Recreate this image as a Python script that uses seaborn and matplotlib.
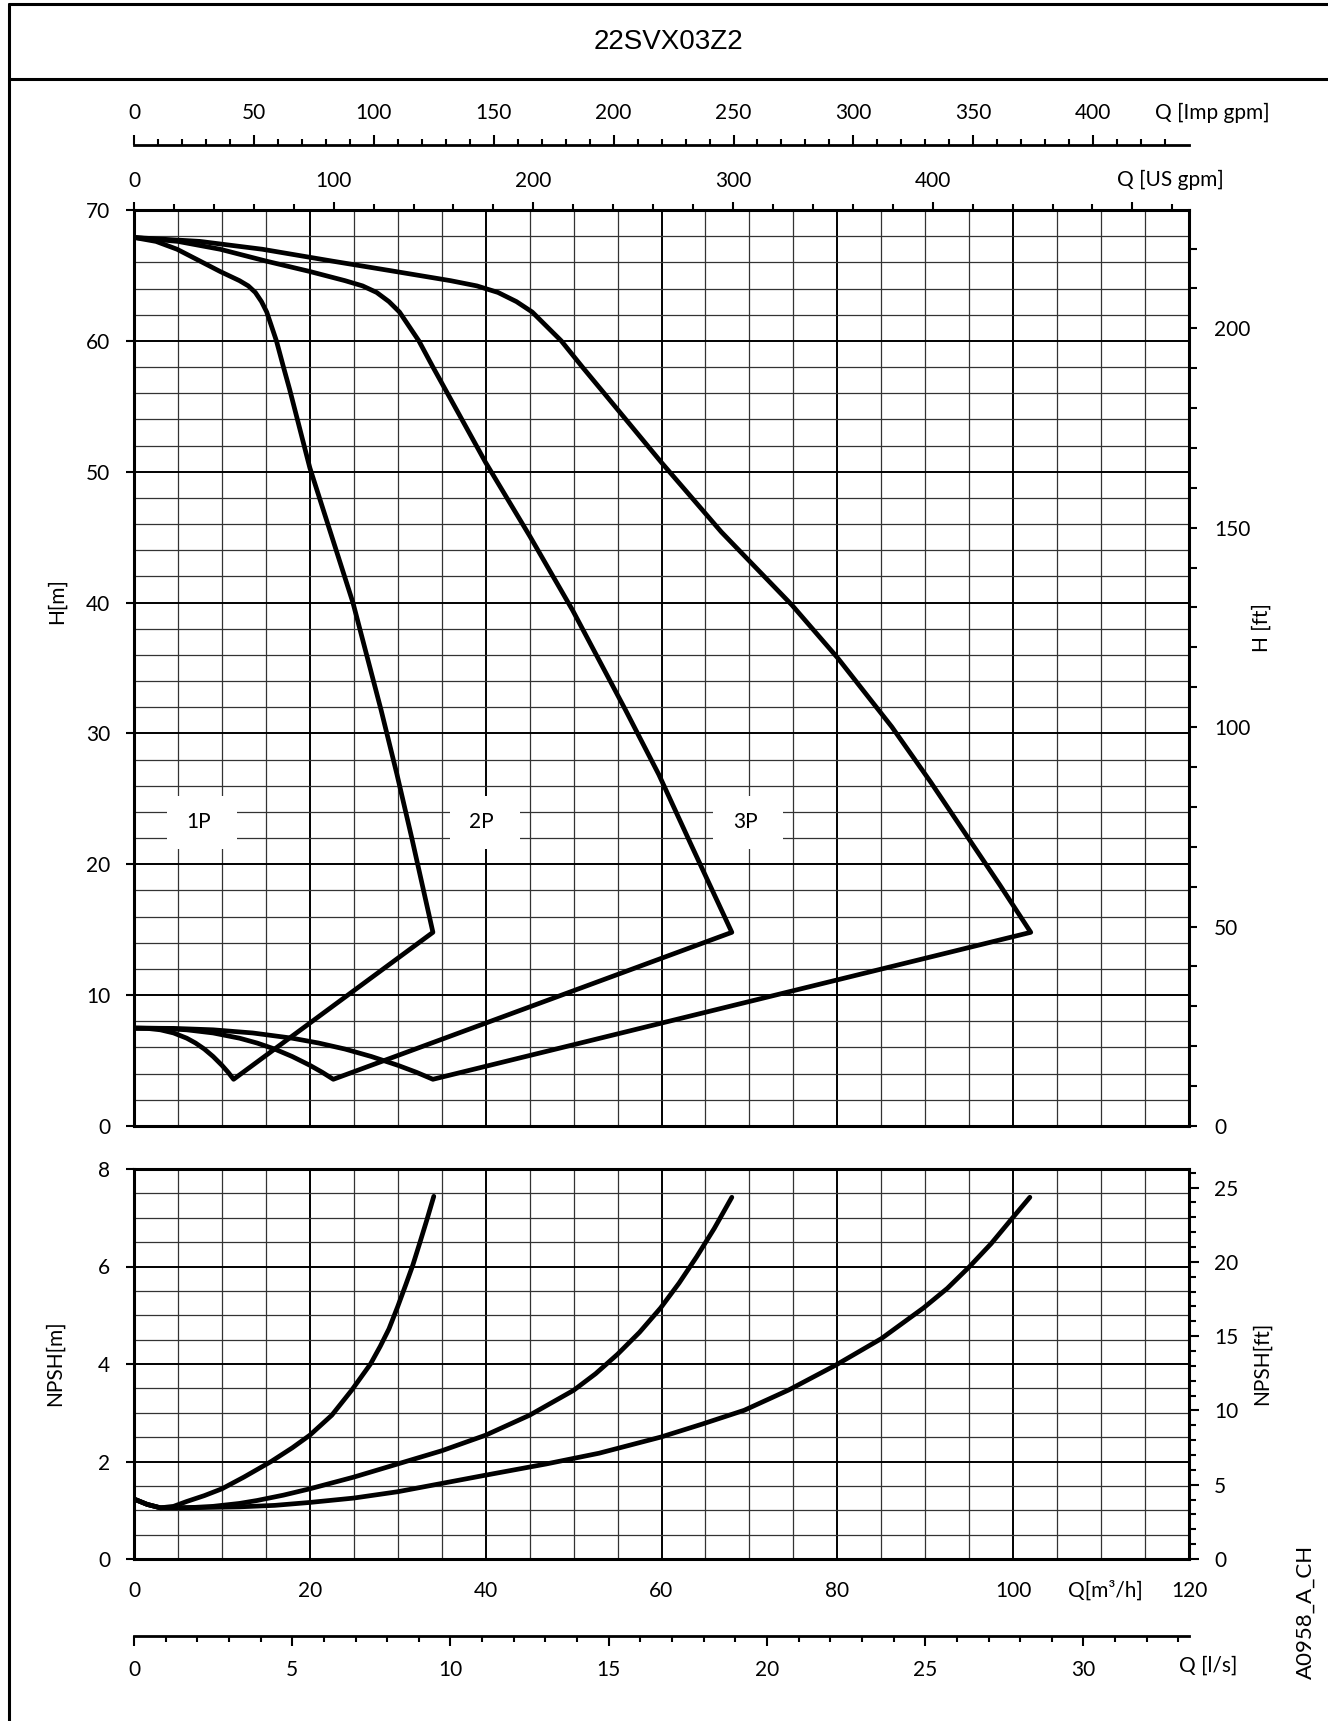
import numpy as np
import matplotlib
matplotlib.use("Agg")
import matplotlib.pyplot as plt
import seaborn as sns
from matplotlib.ticker import MultipleLocator
from matplotlib.lines import Line2D
from matplotlib.patches import Rectangle

# ---- H curves (Q in m3/h, H in m) ----
q_1p_top = [0, 2.5, 4.9, 7.5, 9.8, 12.0, 13.0, 13.8, 14.5, 15.1, 15.6, 16.2, 17.0, 17.7, 20.0, 24.9, 28.1, 29.9, 31.6, 34.0]
h_1p_top = [67.9, 67.6, 67.0, 66.1, 65.3, 64.6, 64.2, 63.7, 63.0, 62.2, 61.2, 60.0, 58.0, 56.3, 50.3, 40.0, 31.8, 26.9, 22.0, 14.8]
q_1p_low = [0, 1.5, 3.0, 4.5, 6.0, 7.0, 8.0, 9.0, 10.0, 10.7, 11.33]
h_1p_low = [7.48, 7.46, 7.35, 7.11, 6.71, 6.34, 5.88, 5.31, 4.64, 4.11, 3.57]

q_2p_top = [0, 5, 9.8, 15, 20, 24.0, 26.0, 27.6, 29.0, 30.2, 31.2, 32.4, 34.0, 35.4, 40.0, 45.0, 49.9, 55.9, 59.7, 63.5, 68.0]
h_2p_top = [67.9, 67.6, 67.0, 66.1, 65.3, 64.6, 64.2, 63.7, 63.0, 62.2, 61.2, 60.0, 58.0, 56.3, 50.7, 45.1, 39.4, 31.8, 26.85, 21.3, 14.8]
q_2p_low = [0, 3, 6, 9, 12, 14, 16, 18, 20, 21.4, 22.67]
h_2p_low = [7.48, 7.46, 7.35, 7.11, 6.71, 6.34, 5.88, 5.31, 4.64, 4.11, 3.57]

q_3p_top = [0, 7.5, 14.6, 22.5, 29.3, 36.0, 39.0, 41.4, 43.5, 45.3, 46.8, 48.6, 51.0, 53.1, 60.0, 66.8, 74.85, 80.0, 86.2, 90.6, 94.9, 98.5, 102.0]
h_3p_top = [67.9, 67.6, 67.0, 66.1, 65.35, 64.6, 64.2, 63.7, 63.0, 62.2, 61.2, 60.0, 58.0, 56.3, 50.7, 45.4, 39.8, 35.8, 30.5, 26.3, 22.0, 18.4, 14.8]
q_3p_low = [0, 4.5, 9, 13.5, 18, 21, 24, 27, 30, 32.1, 34.0]
h_3p_low = [7.48, 7.46, 7.35, 7.11, 6.71, 6.34, 5.88, 5.31, 4.64, 4.11, 3.57]

# ---- NPSH curves (m) ----
q_npsh_1p = [0, 1.5, 3.0, 4.5, 6.0, 8.0, 10.0, 12.5, 15.6, 18.0, 20.0, 22.5, 24.75, 26.9, 28.0, 29.0, 30.0, 30.9, 31.7, 32.5, 33.3, 34.1]
npsh_1p = [1.23, 1.12, 1.05, 1.08, 1.18, 1.30, 1.44, 1.68, 2.00, 2.28, 2.54, 2.95, 3.46, 4.00, 4.36, 4.72, 5.18, 5.62, 6.02, 6.48, 6.95, 7.44]
q_npsh_2p = [0, 1.5, 3.0, 5, 7, 9, 12, 14, 17, 20, 25, 30, 35, 40, 45, 50, 52.5, 55, 57.5, 59.9, 62.0, 64.0, 66.0, 68.0]
npsh_2p = [1.23, 1.12, 1.05, 1.05, 1.06, 1.08, 1.14, 1.2, 1.31, 1.44, 1.68, 1.95, 2.22, 2.54, 2.95, 3.46, 3.8, 4.2, 4.65, 5.15, 5.66, 6.2, 6.78, 7.42]
q_npsh_3p = [0, 1.5, 3, 6, 9, 12, 16, 20, 25, 30, 35, 40, 46.9, 52.9, 59.9, 64.5, 69.4, 74.5, 79.85, 85, 89.8, 92.5, 95.05, 97.5, 99.8, 101.9]
npsh_3p = [1.23, 1.12, 1.05, 1.05, 1.06, 1.07, 1.10, 1.16, 1.25, 1.38, 1.55, 1.72, 1.95, 2.17, 2.50, 2.76, 3.05, 3.47, 3.98, 4.52, 5.15, 5.55, 6.0, 6.47, 6.97, 7.42]

curve_names = ["1P", "2P", "3P"]
label_q = [7.3, 39.5, 69.5]
box_q = [7.7, 39.95, 69.85]
label_h = 23.2

sns.set_style("white")
plt.rcParams['font.family'] = ['Lato', 'DejaVu Sans']
plt.rcParams['text.color'] = 'black'
plt.rcParams['xtick.color'] = 'black'
plt.rcParams['ytick.color'] = 'black'
plt.rcParams['axes.edgecolor'] = 'black'

W, H = 1328, 1721


def fx(px):
    return px / W


def fy(py):
    return 1 - py / H


fig = plt.figure(figsize=(W / 100, H / 100), dpi=100)
ax_h = fig.add_axes([fx(134), fy(1126), fx(1189) - fx(134), fy(210) - fy(1126)])
ax_n = fig.add_axes([fx(134), fy(1559), fx(1189) - fx(134), fy(1169) - fy(1559)])


def setup(ax, ymax, ymajor, yminor):
    ax.set_xlim(0, 120)
    ax.set_ylim(0, ymax)
    ax.xaxis.set_major_locator(MultipleLocator(20))
    ax.xaxis.set_minor_locator(MultipleLocator(5))
    ax.yaxis.set_major_locator(MultipleLocator(ymajor))
    ax.yaxis.set_minor_locator(MultipleLocator(yminor))
    ax.grid(which='major', color='black', lw=1.4)
    ax.grid(which='minor', color='#333333', lw=0.9)
    ax.set_axisbelow(True)
    for s in ax.spines.values():
        s.set_visible(True)
        s.set_linewidth(2.2)
        s.set_color('black')
    ax.tick_params(axis='y', which='major', left=True, length=6, width=1.5,
                   direction='out', pad=11, labelsize=15)
    ax.tick_params(axis='y', which='minor', left=False, length=0)
    ax.tick_params(axis='x', which='both', bottom=False, top=False, length=0)
    ax.set_xlabel("")
    ax.set_ylabel("")


setup(ax_h, 70, 10, 2)
setup(ax_n, 8, 2, 0.5)
ax_h.tick_params(axis='x', labelbottom=False)
ax_n.tick_params(axis='x', labelbottom=True, labelsize=15, pad=16)
ax_n.set_xticks([0, 20, 40, 60, 80, 100, 120])


def draw(ax, q, v):
    sns.lineplot(x=q, y=v, ax=ax, color='black', lw=3.4, sort=False,
                 estimator=None, legend=False,
                 solid_capstyle='round', solid_joinstyle='round')


for qt, ht, ql, hl in [(q_1p_top, h_1p_top, q_1p_low, h_1p_low),
                       (q_2p_top, h_2p_top, q_2p_low, h_2p_low),
                       (q_3p_top, h_3p_top, q_3p_low, h_3p_low)]:
    draw(ax_h, qt + ql[::-1], ht + hl[::-1])

draw(ax_n, q_npsh_1p, npsh_1p)
draw(ax_n, q_npsh_2p, npsh_2p)
draw(ax_n, q_npsh_3p, npsh_3p)

for name, tq, bq in zip(curve_names, label_q, box_q):
    ax_h.add_patch(Rectangle((bq - 4.0, label_h - 2.0), 8.0, 4.0,
                             facecolor='white', edgecolor='none', zorder=1))
    ax_h.text(tq, label_h, name, ha='center', va='center', fontsize=15, zorder=3)

ax_h.set_xlim(0, 120)
ax_h.set_ylim(0, 70)
ax_n.set_xlim(0, 120)
ax_n.set_ylim(0, 8)

# ---- secondary scales ----
sec_us = ax_h.secondary_xaxis('top', functions=(lambda q: q * 4.40287, lambda g: g / 4.40287))
sec_us.set_xticks([0, 100, 200, 300, 400, 500], ['0', '100', '200', '300', '400', ''])
sec_us.xaxis.set_minor_locator(MultipleLocator(20))
sec_us.tick_params(which='major', top=True, length=6, width=1.5, pad=8, labelsize=15)
sec_us.tick_params(which='minor', top=True, length=4, width=1.5)

sec_imp = ax_h.secondary_xaxis(1.071, functions=(lambda q: q * 3.66615, lambda g: g / 3.66615))
sec_imp.set_xticks(np.arange(0, 401, 50))
sec_imp.xaxis.set_minor_locator(MultipleLocator(10))
sec_imp.tick_params(which='major', top=True, length=7, width=1.5, pad=9, labelsize=15)
sec_imp.tick_params(which='minor', top=True, length=4, width=1.5)
for s in sec_imp.spines.values():
    s.set_linewidth(2.0)

sec_ls = ax_n.secondary_xaxis(-0.1974, functions=(lambda q: q / 3.6, lambda l: l * 3.6))
sec_ls.set_xticks(np.arange(0, 31, 5))
sec_ls.xaxis.set_minor_locator(MultipleLocator(1))
sec_ls.tick_params(which='major', bottom=True, length=7, width=1.5, pad=10, labelsize=15)
sec_ls.tick_params(which='minor', bottom=True, length=4, width=1.5)
for s in sec_ls.spines.values():
    s.set_linewidth(2.0)

sec_hft = ax_h.secondary_yaxis('right', functions=(lambda m: m * 3.28084, lambda f: f / 3.28084))
sec_hft.set_yticks(np.arange(0, 201, 50))
sec_hft.yaxis.set_minor_locator(MultipleLocator(10))
sec_hft.tick_params(which='both', right=True, length=6, width=1.5, pad=12, labelsize=15)

sec_nft = ax_n.secondary_yaxis('right', functions=(lambda m: m * 3.28084, lambda f: f / 3.28084))
sec_nft.set_yticks(np.arange(0, 26, 5))
sec_nft.yaxis.set_minor_locator(MultipleLocator(1))
sec_nft.tick_params(which='major', right=True, length=7, width=1.5, pad=11, labelsize=15)
sec_nft.tick_params(which='minor', right=True, length=5, width=1.5)

# ---- axis titles ----
fig.text(fx(1170), fy(180), "Q [US gpm]", ha='center', va='center', fontsize=15)
fig.text(fx(1212), fy(113), "Q [Imp gpm]", ha='center', va='center', fontsize=15)
fig.text(fx(1105), fy(1591), "Q[m³/h]", ha='center', va='center', fontsize=15)
fig.text(fx(1208), fy(1666), "Q [l/s]", ha='center', va='center', fontsize=15)
fig.text(fx(57), fy(601), "H[m]", ha='center', va='center', rotation=90, fontsize=15)
fig.text(fx(55), fy(1363), "NPSH[m]", ha='center', va='center', rotation=90, fontsize=15)
fig.text(fx(1262), fy(628), "H [ft]", ha='center', va='center', rotation=90, fontsize=15)
fig.text(fx(1262), fy(1363), "NPSH[ft]", ha='center', va='center', rotation=90, fontsize=15)
fig.text(fx(1306), fy(1612), "A0958_A_CH", ha='center', va='center', rotation=90, fontsize=16)
fig.text(fx(668), fy(42), "22SVX03Z2", ha='center', va='center', fontsize=20,
         family='Liberation Sans')

# frame
fig.add_artist(Line2D([fx(9), fx(9)], [fy(4), 0], color='black', lw=2.2))
fig.add_artist(Line2D([fx(9), 1], [fy(4), fy(4)], color='black', lw=2.2))
fig.add_artist(Line2D([fx(9), 1], [fy(79), fy(79)], color='black', lw=2.2))

fig.savefig("out.png", dpi=100, facecolor='white')
